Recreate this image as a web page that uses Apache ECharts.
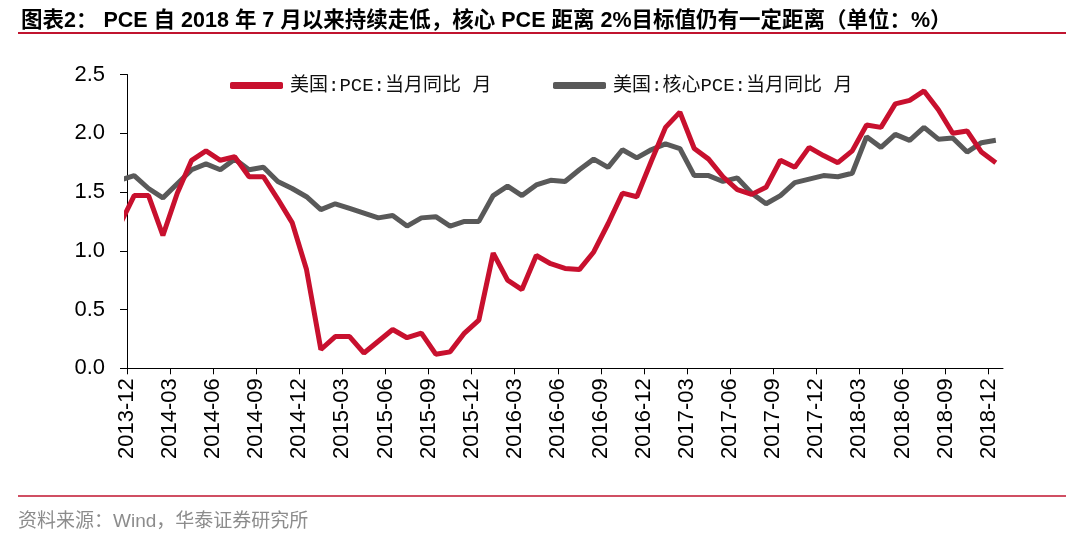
<!DOCTYPE html>
<html>
<head>
<meta charset="utf-8">
<script src="https://cdn.jsdelivr.net/npm/echarts@6/dist/echarts.min.js"></script>
<style>
  html, body { margin: 0; padding: 0; background: #fff; }
  #chart { width: 1080px; height: 544px; }
</style>
</head>
<body>
<div id="chart"></div>
<script>
// 刻度标签，每3个月一个（2013-12 ~ 2018-12）
var tickLabels = ['2013-12', '2014-03', '2014-06', '2014-09', '2014-12', '2015-03', '2015-06',
    '2015-09', '2015-12', '2016-03', '2016-06', '2016-09', '2016-12', '2017-03', '2017-06',
    '2017-09', '2017-12', '2018-03', '2018-06', '2018-09', '2018-12'];

// 美国:PCE:当月同比，2013-12 起逐月
var pce = [1.47, 1.47, 1.13, 1.49, 1.77, 1.85, 1.77, 1.80, 1.63, 1.63, 1.44, 1.24,
    0.84, 0.16, 0.27, 0.27, 0.13, 0.23, 0.33, 0.26, 0.30, 0.12, 0.14, 0.30,
    0.41, 0.98, 0.75, 0.67, 0.96, 0.89, 0.85, 0.84, 0.99, 1.23, 1.49, 1.46,
    1.76, 2.05, 2.18, 1.87, 1.78, 1.63, 1.52, 1.48, 1.54, 1.77, 1.71, 1.88,
    1.81, 1.75, 1.85, 2.07, 2.05, 2.25, 2.28, 2.36, 2.20, 2.00, 2.02, 1.84, 1.75];
// 美国:核心PCE:当月同比
var corePce = [1.64, 1.53, 1.45, 1.57, 1.69, 1.74, 1.69, 1.78, 1.69, 1.71, 1.59, 1.53,
    1.46, 1.35, 1.40, 1.36, 1.32, 1.28, 1.30, 1.21, 1.28, 1.29, 1.21, 1.25,
    1.25, 1.47, 1.55, 1.47, 1.56, 1.60, 1.59, 1.69, 1.78, 1.71, 1.86, 1.79,
    1.86, 1.91, 1.87, 1.64, 1.64, 1.59, 1.62, 1.49, 1.40, 1.47, 1.58, 1.61,
    1.64, 1.63, 1.66, 1.97, 1.88, 1.99, 1.94, 2.05, 1.95, 1.96, 1.84, 1.92, 1.94];
// 2013-11 的值，只露出到纵轴为止
var pcePrev = 1.22;
var corePrev = 1.60;

var redColor = '#c8102e';
var grayColor = '#595959';

function toPoints(prev, values) {
    var pts = [[-0.5, prev]];
    for (var i = 0; i < values.length; i++) {
        pts.push([i + 0.5, values[i]]);
    }
    return pts;
}

var tickValues = [];
for (var t = 0; t < tickLabels.length; t++) {
    tickValues.push(t * 3);
}

var myChart = echarts.init(document.getElementById('chart'));

myChart.setOption({
    backgroundColor: '#fff',
    animation: false,
    title: {
        text: '图表2： PCE 自 2018 年 7 月以来持续走低，核心 PCE 距离 2%目标值仍有一定距离（单位：%）',
        left: 16,
        top: 5,
        textStyle: {
            color: '#000',
            fontSize: 21.5,
            fontWeight: 'bold',
            fontFamily: "'Liberation Sans', 'Noto Sans CJK SC'"
        }
    },
    graphic: [
        {
            type: 'line',
            shape: { x1: 18, y1: 33, x2: 1066, y2: 33 },
            style: { stroke: '#c0142f', lineWidth: 2 }
        },
        {
            type: 'line',
            shape: { x1: 18, y1: 496, x2: 1066, y2: 496 },
            style: { stroke: '#c0142f', lineWidth: 1.5 }
        },
        {
            type: 'text',
            left: 18,
            top: 512,
            style: {
                text: '资料来源：Wind，华泰证券研究所',
                fill: '#8c8c8c',
                fontSize: 19,
                fontFamily: "'Liberation Sans', 'Noto Sans CJK SC'"
            }
        }
    ],
    legend: [
        {
            data: ['美国:PCE:当月同比 月'],
            left: 225,
            top: 71,
            icon: 'roundRect',
            itemWidth: 53,
            itemHeight: 7,
            textStyle: {
                color: '#111',
                fontSize: 19,
                fontFamily: "'Liberation Mono', 'Noto Sans CJK SC'",
                padding: [0, 0, 0, 2]
            }
        },
        {
            data: ['美国:核心PCE:当月同比 月'],
            left: 548,
            top: 71,
            icon: 'roundRect',
            itemWidth: 53,
            itemHeight: 7,
            textStyle: {
                color: '#111',
                fontSize: 19,
                fontFamily: "'Liberation Mono', 'Noto Sans CJK SC'",
                padding: [0, 0, 0, 2]
            }
        }
    ],
    grid: {
        left: 127,
        right: 77,
        top: 74.5,
        bottom: 175.7
    },
    xAxis: {
        type: 'value',
        min: 0,
        max: 61,
        splitLine: { show: false },
        axisLine: { lineStyle: { color: '#000', width: 1 } },
        axisTick: {
            show: true,
            length: 6,
            customValues: tickValues,
            lineStyle: { color: '#000' }
        },
        axisLabel: {
            rotate: 90,
            margin: 10,
            customValues: tickValues,
            color: '#000',
            fontSize: 22,
            fontFamily: "'Liberation Sans'",
            formatter: function (v) {
                return tickLabels[Math.round(v / 3)] || '';
            }
        }
    },
    yAxis: {
        type: 'value',
        min: 0,
        max: 2.5,
        interval: 0.5,
        splitLine: { show: false },
        axisLine: { show: true, lineStyle: { color: '#000', width: 1 } },
        axisTick: { show: true, length: 7, lineStyle: { color: '#000' } },
        axisLabel: {
            margin: 22,
            color: '#000',
            fontSize: 22,
            fontFamily: "'Liberation Sans'",
            formatter: function (v) {
                return v.toFixed(1);
            }
        }
    },
    series: [
        {
            name: '美国:PCE:当月同比 月',
            type: 'line',
            data: toPoints(pcePrev, pce),
            showSymbol: false,
            symbol: 'none',
            clip: true,
            color: redColor,
            lineStyle: { color: redColor, width: 5 },
            z: 3
        },
        {
            name: '美国:核心PCE:当月同比 月',
            type: 'line',
            data: toPoints(corePrev, corePce),
            showSymbol: false,
            symbol: 'none',
            clip: true,
            color: grayColor,
            lineStyle: { color: grayColor, width: 5 },
            z: 2
        }
    ]
});

window.onresize = function () {
    myChart.resize();
}
</script>
</body>
</html>
